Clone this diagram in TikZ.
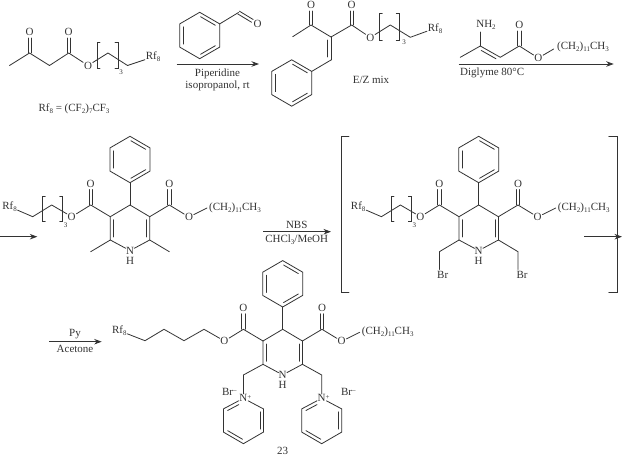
\documentclass[tikz,border=0pt]{standalone}
\usepackage{fontspec}
\setmainfont{Liberation Serif}
\usetikzlibrary{calc,arrows.meta}
\definecolor{ink}{HTML}{333333}
\newcommand\sbs[1]{\raisebox{-.35ex}{\fontsize{7}{8}\selectfont #1}}
\newcommand\Rfe{Rf\sbs{8}}
\newcommand\longchain{(CH\sbs{2})\sbs{11}CH\sbs{3}}
\tikzset{
  bond/.style={draw=ink,line width=.8pt,line cap=round},
  atom/.style={text=ink,inner sep=.6pt,font=\fontsize{11}{12}\selectfont},
  tight/.style={inner sep=0pt},
  lab/.style={text=ink,inner sep=0pt,font=\fontsize{11}{12}\selectfont},
  rarrow/.style={draw=ink,line width=.85pt,-{Stealth[length=7.5pt,width=5.5pt]}},
}
% inner bond on the right-hand side of a->b
\newcommand\inb[2]{\draw[bond,shorten >=3pt,shorten <=3pt] ($(#1)!3.4pt!-90:(#2)$) -- ($(#2)!3.4pt!90:(#1)$);}
\newcommand\inbN[2]{\draw[bond,shorten >=7pt,shorten <=3pt] ($(#1)!3.4pt!-90:(#2)$) -- ($(#2)!3.4pt!90:(#1)$);}
% C=O bond: two lines either side of the axis
\newcommand\cob[2]{\draw[bond,shorten >=6pt] ($(#1)!1.6pt!-90:(#2)$) -- ($(#2)!1.6pt!90:(#1)$);
  \draw[bond,shorten >=6pt] ($(#1)!1.6pt!90:(#2)$) -- ($(#2)!1.6pt!-90:(#1)$);}
% square bracket
\newcommand\brL[3]{\draw[bond] (#1+3,#2) -- (#1,#2) -- (#1,#3) -- (#1+3,#3);}
\newcommand\brR[3]{\draw[bond] (#1-3,#2) -- (#1,#2) -- (#1,#3) -- (#1-3,#3);}
% benzene ring: name, centre
\newcommand\phring[3]{\begin{scope}[shift={(#2,#3)},name prefix=#1-]
  \coordinate (t) at (0,-23.2); \coordinate (ur) at (20,-11.6); \coordinate (lr) at (20,11.6);
  \coordinate (b) at (0,23.2); \coordinate (ll) at (-20,11.6); \coordinate (ul) at (-20,-11.6);
  \draw[bond] (t) -- (ur) -- (lr) -- (b) -- (ll) -- (ul) -- cycle;
  \inb{t}{ur}\inb{lr}{b}\inb{ll}{ul}
\end{scope}}
% pyridinium ring: name, N position
\newcommand\pyring[3]{\begin{scope}[shift={(#2,#3)},name prefix=#1-]
  \node[atom] (N) at (0,0) {N\rlap{\raisebox{.55ex}{\fontsize{7}{8}\selectfont +}}};
  \coordinate (ur) at (20,10.6); \coordinate (lr) at (20,33.8);
  \coordinate (b) at (0,45.4); \coordinate (ll) at (-20,33.8); \coordinate (ul) at (-20,10.6);
  \draw[bond] (N) -- (ur) -- (lr) -- (b) -- (ll) -- (ul) -- (N);
  \inb{ur}{lr}\inb{b}{ll}\inbN{ul}{N}
\end{scope}}
% dihydropyridine core with phenyl and both esters (coordinates of the second row, left molecule)
\newcommand\dhpcore{
  \coordinate (C4) at (130,205); \coordinate (C3R) at (149.7,216.7); \coordinate (C2R) at (149.7,240);
  \node[atom,tight] (N) at (130,250.6) {N}; \node[atom,tight] (H) at (130,260.6) {H};
  \coordinate (C2L) at (110.3,240); \coordinate (C3L) at (110.3,216.7);
  \draw[bond] (C4) -- (C3R) -- (C2R) -- (N) -- (C2L) -- (C3L) -- (C4);
  \inb{C3R}{C2R}\inb{C2L}{C3L}
  \phring{ph}{130}{159.5}
  \coordinate (phb) at (130,182.7);
  \draw[bond] (C4) -- (phb);
  \coordinate (EL) at (90.7,205); \node[atom] (OL) at (90.7,183.5) {O};
  \node[atom] (OLe) at (71.7,216.7) {O};
  \draw[bond] (C3L) -- (EL) -- (OLe); \cob{EL}{OL}
  \coordinate (ER) at (169.3,205); \node[atom] (OR) at (169.3,183.5) {O};
  \node[atom] (ORe) at (189,217) {O};
  \draw[bond] (C3R) -- (ER) -- (ORe); \cob{ER}{OR}
  \node[lab,anchor=west] (Rc) at (209,208) {\longchain};
  \coordinate (Rcs) at (207,208);
  \draw[bond] (ORe) -- (Rcs);
}
% the Rf8 chain with bracket
\newcommand\rfchain{
  \node[atom] (Rf) at (9.5,206.7) {\Rfe};
  \coordinate (c1) at (32.7,216.7); \coordinate (c2) at (51.7,205); \coordinate (c3) at (71.7,216.7);
  \draw[bond] (Rf) -- (c1) -- (c2) -- (OLe);
  \brL{42.3}{196}{221.7}\brR{62.7}{196}{221.7}
  \node[lab,font=\fontsize{7}{8}\selectfont] (n3) at (65.7,225) {3};
}
\begin{document}
\begin{tikzpicture}[x=1pt,y=-1pt]
\useasboundingbox (0,0) rectangle (622,457);
\fill[white] (0,0) rectangle (622,457);

% ---- molecule 1
\coordinate (a1) at (9.5,65.5); \coordinate (a2) at (29.5,53); \coordinate (a3) at (49.5,65.5);
\coordinate (a4) at (68.7,53); \node[atom] (aO1) at (29.5,32) {O}; \node[atom] (aO2) at (68.7,32) {O};
\node[atom] (aO3) at (88,65.5) {O};
\coordinate (a5) at (108,53); \coordinate (a6) at (127.5,65.5);
\node[atom] (aRf) at (153,57) {\Rfe};
\draw[bond] (a1) -- (a2) -- (a3) -- (a4) -- (aO3) -- (a5) -- (a6) -- (aRf);
\cob{a2}{aO1}\cob{a4}{aO2}
\brL{97}{42}{68.5}\brR{118}{42}{68.5}
\node[lab,font=\fontsize{7}{8}\selectfont] (a3n) at (121,72) {3};
\node[lab] (aRfdef) at (74,109) {\Rfe\ = (CF\sbs{2})\sbs{7}CF\sbs{3}};

% ---- benzaldehyde over arrow
\phring{bz}{199.7}{35.5}
\coordinate (bz1) at (238.5,12.5); \node[atom] (bzO) at (257.5,24) {O};
\draw[bond] (bz-ur) -- (bz1); \cob{bz1}{bzO}
\coordinate (ar1s) at (176.7,64); \coordinate (ar1e) at (259,64);
\draw[rarrow] (ar1s) -- (ar1e);
\node[lab] (ar1a) at (217.5,73.5) {Piperidine};
\node[lab] (ar1b) at (217.5,86) {isopropanol, rt};

% ---- molecule 2
\coordinate (b1) at (292.7,36.7); \coordinate (b2) at (311,25); \node[atom] (bO1) at (311,5) {O};
\coordinate (b3) at (331,37); \coordinate (b4) at (351.7,25); \node[atom] (bO2) at (351.7,5) {O};
\node[atom] (bO3) at (370.3,37.5) {O};
\coordinate (b5) at (390.3,25); \coordinate (b6) at (410.3,37.3);
\node[atom] (bRf) at (435,28.3) {\Rfe};
\draw[bond] (b1) -- (b2) -- (b3) -- (b4) -- (bO3) -- (b5) -- (b6) -- (bRf);
\cob{b2}{bO1}\cob{b4}{bO2}
\brL{379.3}{13}{40}\brR{399.3}{13}{40}
\node[lab,font=\fontsize{7}{8}\selectfont] (b3n) at (404,42) {3};
\coordinate (b7) at (331,60);
\draw[bond] (b3) -- (b7); \inb{b3}{b7}
\phring{bp}{291.7}{83}
\draw[bond] (b7) -- (bp-ur);
\node[lab] (bEZ) at (371,80) {E/Z mix};

% ---- enamine reagent over arrow
\node[atom] (cN) at (486,25) {NH\sbs{2}};
\coordinate (c1) at (460.3,57.3); \coordinate (c2) at (480.3,46); \coordinate (c3) at (500.3,57.3);
\coordinate (c4) at (519.3,46); \node[atom] (cO1) at (519.3,25) {O}; \node[atom] (cO2) at (538.3,58) {O};
\coordinate (c5) at (553.7,49);
\node[lab,anchor=west] (cCh) at (557,47.3) {\longchain};
\draw[bond] (c1) -- (c2) -- (c3) -- (c4) -- (cO2) -- (c5);
\draw[bond] (c2) -- ($(c2)+(0,-14)$);
\inb{c2}{c3}\cob{c4}{cO1}
\coordinate (ar2s) at (458.7,64); \coordinate (ar2e) at (613.7,64);
\draw[rarrow] (ar2s) -- (ar2e);
\node[lab,anchor=west] (ar2a) at (460,73) {Diglyme 80°C};

% ---- row 2: arrow and molecule 3
\coordinate (ar3s) at (0,236.7); \coordinate (ar3e) at (37.3,236.7);
\draw[rarrow] (ar3s) -- (ar3e);
\begin{scope}[name prefix=m3-]
  \dhpcore \rfchain
  \coordinate (Me1) at (90.7,251.7); \coordinate (Me2) at (169.3,251.7);
  \draw[bond] (C2L) -- (Me1); \draw[bond] (C2R) -- (Me2);
\end{scope}

% ---- NBS arrow
\coordinate (ar4s) at (263.3,231.7); \coordinate (ar4e) at (331,231.7);
\draw[rarrow] (ar4s) -- (ar4e);
\node[lab] (ar4a) at (296.7,224.5) {NBS};
\node[lab] (ar4b) at (296.7,240) {CHCl\sbs{3}/MeOH};

% ---- molecule 4 in square brackets
\begin{scope}[shift={(348.7,0)},name prefix=m4-]
  \dhpcore \rfchain
  \coordinate (CL) at (90.7,251.7); \coordinate (CR) at (169.3,251.7);
  \node[atom] (BrL) at (94,275) {Br}; \node[atom] (BrR) at (173.3,275) {Br};
  \coordinate (BL) at (90.7,269.5); \coordinate (BR) at (169.3,269.5);
  \draw[bond] (C2L) -- (CL) -- (BL); \draw[bond] (C2R) -- (CR) -- (BR);
\end{scope}
\draw[bond] (349,136.7) -- (341,136.7) -- (341,292.7) -- (349,292.7);
\draw[bond] (608.7,136.7) -- (617,136.7) -- (617,292.7) -- (608.7,292.7);
\coordinate (ar5s) at (584.3,236.7); \coordinate (ar5e) at (622,236.7);
\draw[rarrow] (ar5s) -- (ar5e);

% ---- row 3: Py arrow and product 23
\coordinate (ar6s) at (49.3,341.7); \coordinate (ar6e) at (101.7,341.7);
\draw[rarrow] (ar6s) -- (ar6e);
\node[lab] (ar6a) at (75,334.5) {Py};
\node[lab] (ar6b) at (75,349.3) {Acetone};
\begin{scope}[shift={(152.7,124.3)},name prefix=m5-]
  \dhpcore
  \node[atom] (Rf) at (-33.4,206.4) {\Rfe};
  \coordinate (k1) at (-7.7,216.4); \coordinate (k2) at (11.3,205); \coordinate (k3) at (31.3,216.4);
  \coordinate (k4) at (51.3,205);
  \draw[bond] (Rf) -- (k1) -- (k2) -- (k3) -- (k4) -- (OLe);
  \coordinate (CL) at (90.7,250.7); \coordinate (CR) at (169,250.7);
  \pyring{pL}{90.7}{274}
  \pyring{pR}{169}{274}
  \draw[bond] (C2L) -- (CL) -- (pL-N); \draw[bond] (C2R) -- (CR) -- (pR-N);
  \node[atom] (BrL) at (76.6,267.4) {Br\raisebox{.55ex}{\fontsize{7}{8}\selectfont --}};
  \node[atom] (BrR) at (195.6,267.4) {Br\raisebox{.55ex}{\fontsize{7}{8}\selectfont --}};
\end{scope}
\node[lab] (n23) at (282.7,450.5) {23};
\end{tikzpicture}
\end{document}
